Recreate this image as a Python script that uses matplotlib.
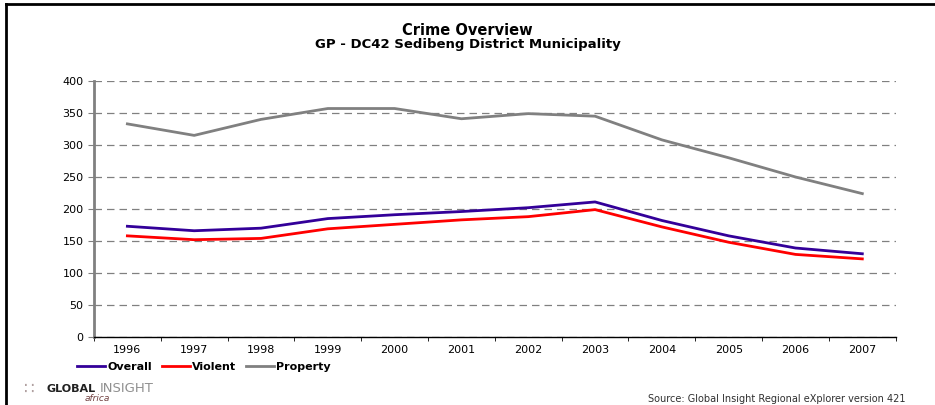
import matplotlib.pyplot as plt
from matplotlib.lines import Line2D
import numpy as np

# Crime ratios per year
years = ['1996', '1997', '1998', '1999', '2000', '2001', '2002', '2003',
         '2004', '2005', '2006', '2007']
overall = [173, 166, 170, 185, 191, 196, 202, 211, 182, 158, 139, 130]
violent = [158, 152, 154, 169, 176, 183, 188, 199, 172, 148, 129, 122]
property_crime = [333, 315, 340, 357, 357, 341, 349, 345, 308, 280, 250, 224]

plt.rcParams['font.family'] = ['DejaVu Sans']

fig = plt.figure(figsize=(9.35, 4.05), dpi=100)
ax = fig.add_axes([0.1005, 0.168, 0.8575, 0.632])

x = np.arange(len(years))
ax.plot(x, overall, color='#330099', linewidth=2, label='Overall')
ax.plot(x, violent, color='#ff0000', linewidth=2, label='Violent')
ax.plot(x, property_crime, color='#808080', linewidth=2, label='Property')

ax.set_xlim(-0.5, len(years) - 0.5)
ax.set_ylim(0, 400)
ax.set_yticks(np.arange(0, 401, 50))
ax.set_xticks(x)
ax.set_xticklabels(years)
ax.set_xticks(np.arange(-0.5, len(years), 1), minor=True)
ax.tick_params(axis='x', which='major', length=0, labelsize=8, pad=6)
ax.tick_params(axis='x', which='minor', length=3, direction='out', color='black')
ax.tick_params(axis='y', length=4, direction='out', color='#808080', labelsize=8)

ax.yaxis.grid(True, linestyle=(0, (6, 4)), color='#808080', linewidth=0.9)
ax.set_axisbelow(True)
for s in ['top', 'right']:
    ax.spines[s].set_visible(False)
ax.spines['left'].set_color('#808080')
ax.spines['left'].set_linewidth(2)
ax.spines['bottom'].set_color('black')
ax.spines['bottom'].set_linewidth(1)

fig.text(0.5, 0.925, 'Crime Overview', ha='center', va='center',
         fontsize=10.5, fontweight='bold')
fig.text(0.5, 0.89, 'GP - DC42 Sedibeng District Municipality', ha='center',
         va='center', fontsize=9.5, fontweight='bold')

fig.legend(loc='center left', bbox_to_anchor=(0.072, 0.094), ncol=3, frameon=False,
           prop={'weight': 'bold', 'size': 8}, handlelength=2.5,
           handletextpad=0.2, columnspacing=0.9)

# frame lines on left and top
fig.add_artist(Line2D([0.006, 0.006], [0, 0.989], transform=fig.transFigure,
                      color='black', linewidth=2))
fig.add_artist(Line2D([0.006, 1.0], [0.989, 0.989], transform=fig.transFigure,
                      color='black', linewidth=2))

# logo approximation
fig.text(0.026, 0.04, '\u2237', fontsize=12, color='#b0a0a0', va='center')
fig.text(0.05, 0.04, 'GLOBAL', fontsize=8, fontweight='black', color='#202020',
         va='center')
fig.text(0.107, 0.04, 'INSIGHT', fontsize=9.5, color='#909090', va='center')
fig.text(0.09, 0.004, 'africa', fontsize=6.5, style='italic', color='#704040',
         va='bottom')

fig.text(0.968, 0.003, 'Source: Global Insight Regional eXplorer version 421',
         ha='right', va='bottom', fontsize=7, color='#303030')

fig.savefig('out.png', dpi=100)
